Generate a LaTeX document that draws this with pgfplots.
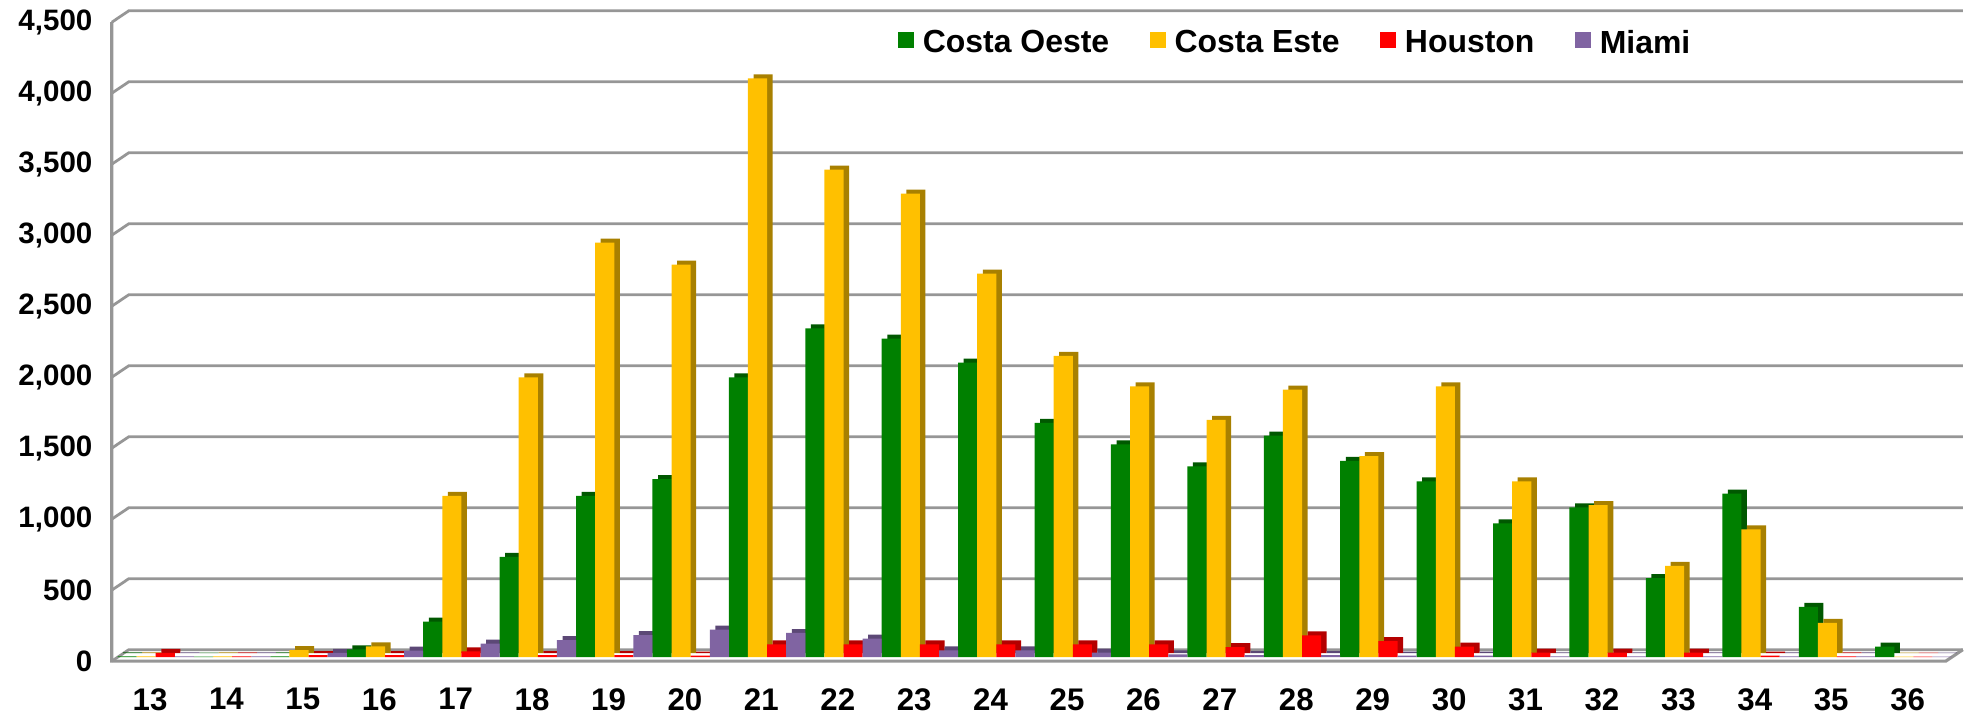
\documentclass[border=0pt]{standalone}
\usepackage{pgfplots}
\pgfplotsset{compat=1.18}
\usepackage{pgfplotstable}
\usepackage{fontspec}
\setmainfont{Liberation Sans}

\definecolor{cgreen}{RGB}{0,128,0}
\definecolor{cgreend}{RGB}{0,88,0}
\definecolor{cyellow}{RGB}{255,192,0}
\definecolor{cyellowd}{RGB}{168,128,0}
\definecolor{cred}{RGB}{255,0,0}
\definecolor{credd}{RGB}{180,0,0}
\definecolor{cpurple}{RGB}{128,100,162}
\definecolor{cpurpled}{RGB}{92,72,118}
\definecolor{gridc}{RGB}{150,150,150}

\pgfplotstableread{
cat oeste este houston miami
13 5 5 30 5
14 3 5 5 5
15 5 50 15 30
16 55 75 15 45
17 250 1135 40 95
18 707 1970 15 120
19 1135 2920 15 155
20 1254 2765 10 193
21 1970 4077 90 170
22 2315 3434 90 130
23 2244 3264 90 48
24 2074 2701 90 48
25 1650 2122 90 32
26 1498 1907 90 20
27 1344 1672 70 15
28 1560 1884 154 15
29 1383 1415 113 10
30 1238 1907 74 10
31 942 1238 32 5
32 1055 1071 32 5
33 556 643 32 5
34 1151 900 10 5
35 354 241 5 5
36 74 3 3 3
}\datatable

\begin{document}
\begin{tikzpicture}
\begin{axis}[
  at={(32.2pt,16.4pt)}, anchor=south west,
  scale only axis, width=528.2pt, height=184pt,
  xmin=12.5, xmax=36.5, ymin=0, ymax=4500,
  xtick={13,...,36}, ytick={0,500,...,4500},
  clip=false,
  axis line style={draw=none},
  tick style={draw=none},
  major tick length=0pt,
  /pgf/number format/.cd, 1000 sep={,}, assume math mode=true,
  /pgfplots/.cd,
  yticklabel style={font=\fontsize{8.5}{10}\selectfont\bfseries, inner sep=0pt, anchor=east, xshift=-5.4pt},
  xticklabel style={font=\fontsize{9}{10}\selectfont\bfseries, inner sep=0pt, anchor=north, yshift=-7.6pt},
  legend style={draw=none, fill=none, inner sep=0pt, outer sep=0pt,
    at={(0.4286,0.9655)}, anchor=west,
    font=\fontsize{9.2}{11}\selectfont\bfseries,
    nodes={inner sep=0pt},
    /tikz/every odd column/.append style={column sep=2.6pt},
    /tikz/every even column/.append style={column sep=11.6pt}},
  legend columns=4,
  legend image code/.code={\fill[#1,draw=none] (0pt,-2.3pt) rectangle (4.6pt,2.3pt);},
]
% back-wall grid with 3D connectors
\pgfplotsinvokeforeach{0,500,...,4500}{
  \draw[gridc, line width=0.8pt] (axis cs:12.5,#1) -- ([xshift=4.9pt,yshift=3.3pt]axis cs:12.5,#1) -- ([xshift=4.9pt,yshift=3.3pt]axis cs:36.5,#1);
}
% front left axis and floor
\draw[gridc, line width=0.9pt] (axis cs:12.5,4500) -- (axis cs:12.5,0) -- (axis cs:36.5,0) -- ([xshift=4.9pt,yshift=3.3pt]axis cs:36.5,0);

% dark (depth) copies
\addplot[ybar, bar width=0.25, bar shift=-0.3, fill=cgreend, draw=none, forget plot, xshift=1.6pt, yshift=2.3pt] table[x=cat,y=oeste]{\datatable};
\addplot[ybar, bar width=0.25, bar shift=-0.05, fill=cyellowd, draw=none, forget plot, xshift=1.6pt, yshift=2.3pt] table[x=cat,y=este]{\datatable};
\addplot[ybar, bar width=0.25, bar shift=0.2, fill=credd, draw=none, forget plot, xshift=1.6pt, yshift=2.3pt] table[x=cat,y=houston]{\datatable};
\addplot[ybar, bar width=0.25, bar shift=0.45, fill=cpurpled, draw=none, forget plot, xshift=1.6pt, yshift=2.3pt] table[x=cat,y=miami]{\datatable};

% front faces
\addplot[ybar, bar width=0.25, bar shift=-0.3, fill=cgreen, draw=none, yshift=1.15pt] table[x=cat,y=oeste]{\datatable};
\addplot[ybar, bar width=0.25, bar shift=-0.05, fill=cyellow, draw=none, yshift=1.15pt] table[x=cat,y=este]{\datatable};
\addplot[ybar, bar width=0.25, bar shift=0.2, fill=cred, draw=none, yshift=1.15pt] table[x=cat,y=houston]{\datatable};
\addplot[ybar, bar width=0.25, bar shift=0.45, fill=cpurple, draw=none, yshift=1.15pt] table[x=cat,y=miami]{\datatable};
\legend{Costa Oeste, Costa Este, Houston, Miami}
\end{axis}
\pgfresetboundingbox
\path[use as bounding box] (0,0) rectangle (568.8pt,206.8pt);
\end{tikzpicture}
\end{document}
